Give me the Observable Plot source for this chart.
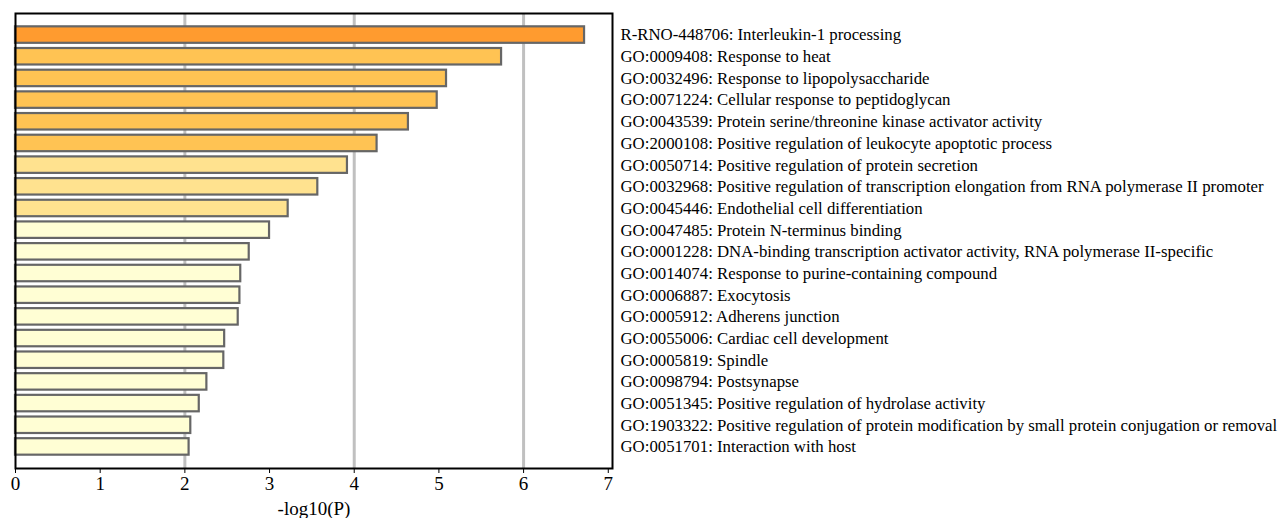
<!DOCTYPE html>
<html>
<head>
<meta charset="utf-8">
<script src="https://cdn.jsdelivr.net/npm/d3@7"></script>
<script src="https://cdn.jsdelivr.net/npm/@observablehq/plot@0.6"></script>
<style>
  html, body { margin: 0; padding: 0; background: #fff; }
  svg { font-family: "Liberation Serif", "Times New Roman", serif; }
</style>
</head>
<body>
<div id="chart"></div>
<script>
const terms = [
  "R-RNO-448706: Interleukin-1 processing",
  "GO:0009408: Response to heat",
  "GO:0032496: Response to lipopolysaccharide",
  "GO:0071224: Cellular response to peptidoglycan",
  "GO:0043539: Protein serine/threonine kinase activator activity",
  "GO:2000108: Positive regulation of leukocyte apoptotic process",
  "GO:0050714: Positive regulation of protein secretion",
  "GO:0032968: Positive regulation of transcription elongation from RNA polymerase II promoter",
  "GO:0045446: Endothelial cell differentiation",
  "GO:0047485: Protein N-terminus binding",
  "GO:0001228: DNA-binding transcription activator activity, RNA polymerase II-specific",
  "GO:0014074: Response to purine-containing compound",
  "GO:0006887: Exocytosis",
  "GO:0005912: Adherens junction",
  "GO:0055006: Cardiac cell development",
  "GO:0005819: Spindle",
  "GO:0098794: Postsynapse",
  "GO:0051345: Positive regulation of hydrolase activity",
  "GO:1903322: Positive regulation of protein modification by small protein conjugation or removal",
  "GO:0051701: Interaction with host"
];
const logP = [6.72, 5.74, 5.09, 4.98, 4.64, 4.27, 3.92, 3.57, 3.22, 3.00,
              2.76, 2.66, 2.65, 2.63, 2.47, 2.46, 2.26, 2.17, 2.07, 2.05];
const colorBin = [0, 1, 1, 1, 1, 1, 2, 2, 2, 3, 3, 3, 3, 3, 3, 3, 3, 3, 3, 3];
const binColors = ["#FF9B2F", "#FFC353", "#FFE28F", "#FFFED4"];
const xTicks = [0, 1, 2, 3, 4, 5, 6, 7];
const gridTicks = [2, 4, 6];
const xLabel = "-log10(P)";

const data = terms.map((t, i) => ({term: t, v: logP[i], bin: colorBin[i]}));

const chart = Plot.plot({
  width: 1281,
  height: 518,
  marginLeft: 15,
  marginRight: 669,
  marginTop: 13,
  marginBottom: 50,
  style: {fontFamily: "'Liberation Serif', 'Times New Roman', serif", background: "#fff"},
  x: {domain: [0, 7.05], ticks: xTicks},
  y: {domain: terms, paddingInner: 0.24, paddingOuter: 0.615, round: false},
  marks: [
    Plot.ruleX(gridTicks, {stroke: "#c0c0c0", strokeWidth: 3}),
    Plot.barX(data, {x: "v", y: "term", fill: d => binColors[d.bin], stroke: "#666666", strokeWidth: 2.2}),
    Plot.frame({stroke: "#000", strokeWidth: 2}),
    Plot.axisX({ticks: xTicks, tickSize: 5, tickPadding: 3, fontSize: 19, label: xLabel, labelAnchor: "center", labelArrow: "none", labelOffset: 46, color: "#000", tickFormat: d => String(d)}),
    Plot.axisY({anchor: "right", tickSize: 0, tickPadding: 8, fontSize: 16.8, label: null, color: "#000"})
  ]
});
document.getElementById("chart").appendChild(chart);
</script>
</body>
</html>
